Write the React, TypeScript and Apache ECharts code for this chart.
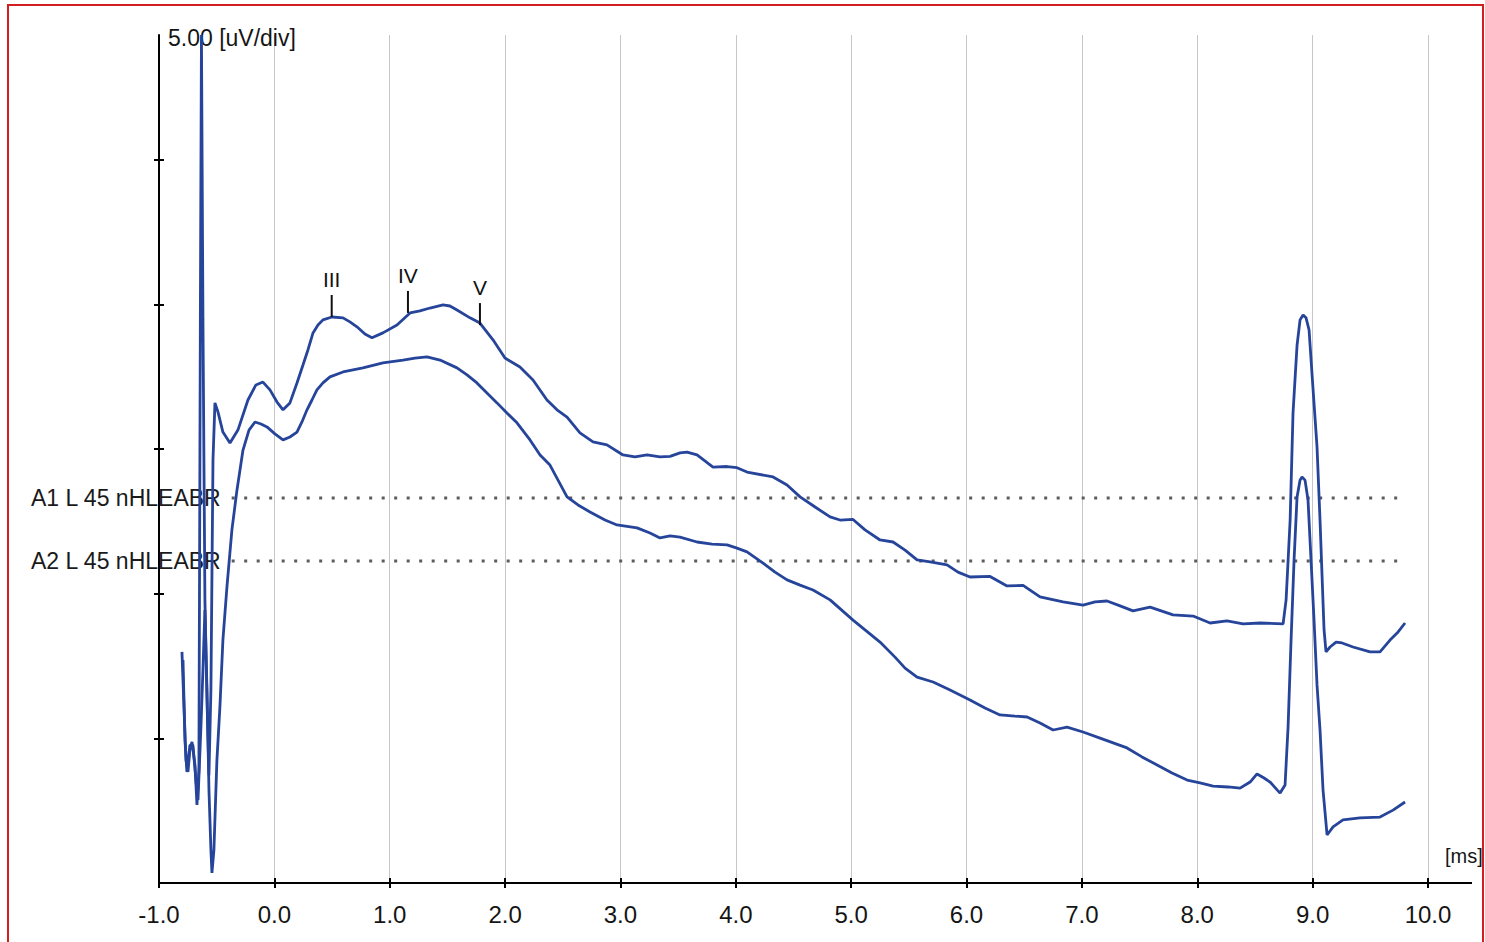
import React, { useEffect, useRef } from "react";
import * as echarts from "echarts";

const FONT = "'Liberation Sans', Arial, Helvetica, sans-serif";

// Axis ticks / labels
const xTickValues = [-1, 0, 1, 2, 3, 4, 5, 6, 7, 8, 9, 10];
const yTickValues = [5, 10, 15, 20, 25];
const xAxisUnit = "[ms]";
const yAxisTitle = "5.00 [uV/div]";

// Channel A1 (upper trace): latency [ms], amplitude [uV]
const a1Time = [
  -0.801, -0.784, -0.766, -0.749, -0.732, -0.714, -0.688, -0.671, -0.654, -0.641,
  -0.632, -0.619, -0.602, -0.584, -0.567, -0.55, -0.532, -0.515, -0.489, -0.446,
  -0.385, -0.316, -0.229, -0.16, -0.099, -0.038, 0.023, 0.075, 0.135, 0.196,
  0.248, 0.291, 0.335, 0.378, 0.421, 0.499, 0.595, 0.655, 0.716, 0.785,
  0.846, 0.941, 1.063, 1.176, 1.262, 1.349, 1.462, 1.522, 1.583, 1.696,
  1.782, 1.895, 1.999, 2.129, 2.242, 2.363, 2.45, 2.537, 2.649, 2.762,
  2.883, 3.022, 3.126, 3.23, 3.343, 3.43, 3.516, 3.577, 3.664, 3.802,
  3.924, 4.01, 4.097, 4.323, 4.444, 4.557, 4.687, 4.817, 4.903, 5.016,
  5.12, 5.25, 5.363, 5.467, 5.571, 5.684, 5.831, 5.926, 6.03, 6.204,
  6.351, 6.49, 6.637, 6.837, 7.01, 7.114, 7.218, 7.331, 7.443, 7.591,
  7.79, 7.964, 8.111, 8.258, 8.397, 8.545, 8.744, 8.77, 8.805, 8.83,
  8.865, 8.891, 8.917, 8.943, 8.969, 9.004, 9.038, 9.064, 9.082, 9.099,
  9.116, 9.151, 9.203, 9.255, 9.35, 9.498, 9.584, 9.671, 9.741, 9.801,
];
const a1Amp = [
  7.99, 6.15, 4.25, 3.84, 4.6, 4.88, 4.08, 2.7, 3.91, 20.16,
  29.32, 19.47, 9.79, 6.33, 3.73, 6.67, 14.63, 16.6, 16.29, 15.59,
  15.21, 15.66, 16.7, 17.22, 17.32, 17.05, 16.63, 16.36, 16.6, 17.29,
  17.91, 18.43, 19.02, 19.29, 19.47, 19.57, 19.54, 19.4, 19.23, 18.98,
  18.85, 19.02, 19.29, 19.71, 19.78, 19.88, 19.99, 19.95, 19.81, 19.54,
  19.36, 18.78, 18.15, 17.84, 17.39, 16.7, 16.36, 16.11, 15.56, 15.25,
  15.15, 14.8, 14.73, 14.8, 14.73, 14.75, 14.87, 14.9, 14.8, 14.38,
  14.4, 14.36, 14.21, 14.04, 13.76, 13.35, 13.0, 12.66, 12.55, 12.57,
  12.21, 11.86, 11.79, 11.51, 11.17, 11.1, 11.0, 10.75, 10.58, 10.6,
  10.27, 10.29, 9.89, 9.72, 9.61, 9.72, 9.75, 9.58, 9.41, 9.54,
  9.27, 9.23, 8.99, 9.06, 8.96, 8.99, 8.96, 9.79, 12.55, 16.25,
  18.6, 19.47, 19.64, 19.54, 19.12, 17.05, 15.08, 12.55, 10.58, 8.75,
  7.99, 8.16, 8.33, 8.3, 8.16, 7.99, 7.99, 8.4, 8.68, 8.99,
];

// Channel A2 (lower trace): latency [ms], amplitude [uV]
const a2Time = [
  -0.792, -0.775, -0.758, -0.732, -0.706, -0.68, -0.662, -0.636, -0.619, -0.602,
  -0.584, -0.567, -0.55, -0.541, -0.524, -0.498, -0.472, -0.446, -0.411, -0.368,
  -0.324, -0.272, -0.22, -0.168, -0.116, -0.064, 0.005, 0.075, 0.135, 0.196,
  0.239, 0.283, 0.326, 0.369, 0.421, 0.482, 0.595, 0.768, 0.941, 1.115,
  1.219, 1.323, 1.436, 1.583, 1.67, 1.756, 1.843, 1.93, 2.016, 2.103,
  2.216, 2.303, 2.389, 2.537, 2.632, 2.736, 2.866, 2.97, 3.144, 3.256,
  3.343, 3.43, 3.516, 3.664, 3.794, 3.924, 4.01, 4.097, 4.236, 4.34,
  4.444, 4.557, 4.669, 4.817, 5.016, 5.12, 5.25, 5.38, 5.467, 5.571,
  5.71, 5.857, 6.03, 6.16, 6.29, 6.42, 6.525, 6.637, 6.75, 6.871,
  7.01, 7.157, 7.391, 7.521, 7.652, 7.781, 7.912, 8.024, 8.137, 8.267,
  8.371, 8.458, 8.518, 8.579, 8.631, 8.692, 8.718, 8.761, 8.787, 8.813,
  8.839, 8.865, 8.891, 8.908, 8.934, 8.96, 8.986, 9.012, 9.038, 9.064,
  9.09, 9.125, 9.177, 9.263, 9.41, 9.584, 9.697, 9.801,
];
const a2Amp = [
  7.71, 4.94, 3.84, 4.77, 4.77, 3.56, 2.87, 5.46, 7.37, 9.44,
  6.67, 3.22, 1.14, 0.35, 1.14, 4.25, 6.09, 8.4, 10.24, 12.21,
  13.59, 14.97, 15.66, 15.94, 15.87, 15.77, 15.53, 15.32, 15.42, 15.59,
  15.94, 16.36, 16.7, 17.05, 17.29, 17.5, 17.67, 17.81, 17.98, 18.08,
  18.15, 18.19, 18.08, 17.81, 17.57, 17.29, 16.94, 16.6, 16.25, 15.91,
  15.32, 14.8, 14.45, 13.35, 13.07, 12.83, 12.55, 12.38, 12.28, 12.1,
  11.93, 12.0, 11.96, 11.79, 11.72, 11.69, 11.58, 11.45, 11.06, 10.75,
  10.48, 10.3, 10.13, 9.79, 9.09, 8.75, 8.33, 7.81, 7.43, 7.12,
  6.95, 6.67, 6.33, 6.05, 5.81, 5.77, 5.74, 5.53, 5.29, 5.39,
  5.22, 5.01, 4.67, 4.36, 4.08, 3.8, 3.56, 3.46, 3.35, 3.32,
  3.28, 3.49, 3.77, 3.63, 3.49, 3.22, 3.11, 3.39, 5.39, 8.4,
  11.17, 13.35, 13.93, 14.04, 13.93, 13.24, 11.17, 9.09, 6.85, 5.29,
  3.22, 1.66, 1.94, 2.18, 2.25, 2.28, 2.52, 2.8,
];

// Channel baselines (dotted) and names
const channelNames = ["A1 L 45 nHLEABR", "A2 L 45 nHLEABR"];
const channelBaseline = [13.31, 11.13];
const baselineSpan = [-0.37, 9.8];

// Wave markers on the A1 trace
const peakLabels = ["III", "IV", "V"];
const peakLatency = [0.497, 1.158, 1.782];
const peakAmplitude = [19.57, 19.71, 19.29];

const Y_MAX = 29.32;
const TRACE_COLOR = "#26459a";

export default function App() {
  const ref = useRef<HTMLDivElement | null>(null);

  useEffect(() => {
    if (!ref.current) return;
    const chart = echarts.init(ref.current, null, { renderer: "svg" });

    const tickStyle = { color: "#000", width: 2 };

    const option: any = {
      animation: false,
      backgroundColor: "#ffffff",
      grid: {
        left: 159,
        right: 57,
        top: 35,
        bottom: 59,
        containLabel: false,
        outerBoundsMode: "none",
      },
      xAxis: [
        {
          type: "value",
          min: -1,
          max: 10,
          interval: 1,
          position: "bottom",
          axisLine: { show: true, onZero: false, lineStyle: { color: "#000", width: 2 } },
          axisTick: { show: true, inside: false, length: 5, lineStyle: tickStyle },
          axisLabel: {
            show: true,
            margin: 19,
            fontSize: 24,
            color: "#151515",
            fontFamily: FONT,
            customValues: xTickValues,
            formatter: (v: number) => v.toFixed(1),
          },
          splitLine: { show: true, lineStyle: { color: "#c6c6c6", width: 1 } },
          name: xAxisUnit,
          nameLocation: "end",
          nameGap: 17,
          nameTextStyle: {
            fontSize: 20,
            color: "#151515",
            fontFamily: FONT,
            align: "left",
            verticalAlign: "bottom",
            padding: [0, 0, 17, 0],
          },
        },
        {
          type: "value",
          min: -1,
          max: 10,
          interval: 1,
          position: "bottom",
          axisLine: { show: false, onZero: false },
          axisTick: { show: true, inside: true, length: 5, lineStyle: tickStyle },
          axisLabel: { show: false },
          splitLine: { show: false },
        },
      ],
      yAxis: [
        {
          type: "value",
          min: 0,
          max: Y_MAX,
          interval: 5,
          position: "left",
          axisLine: { show: true, onZero: false, lineStyle: { color: "#000", width: 2 } },
          axisTick: { show: true, inside: false, length: 5, lineStyle: tickStyle, customValues: yTickValues },
          axisLabel: { show: false },
          splitLine: { show: false },
          name: yAxisTitle,
          nameLocation: "end",
          nameGap: -3,
          nameTextStyle: {
            fontSize: 23,
            color: "#151515",
            fontFamily: FONT,
            align: "left",
            verticalAlign: "middle",
            padding: [0, 0, 0, 9],
          },
        },
        {
          type: "value",
          min: 0,
          max: Y_MAX,
          interval: 5,
          position: "left",
          axisLine: { show: false, onZero: false },
          axisTick: { show: true, inside: true, length: 5, lineStyle: tickStyle, customValues: yTickValues },
          axisLabel: { show: false },
          splitLine: { show: false },
        },
      ],
      series: [
        ...channelNames.map((name, i) => ({
          type: "line",
          name: name + " baseline",
          silent: true,
          z: 2,
          symbol: "circle",
          symbolSize: 0,
          showSymbol: true,
          lineStyle: { type: [3, 9.5], width: 3, color: "#5c5c5c", cap: "butt" },
          data: [
            {
              value: [baselineSpan[0], channelBaseline[i]],
              label: {
                show: true,
                position: "left",
                distance: 11,
                formatter: name,
                fontSize: 23,
                color: "#1a1a1a",
                opacity: 1,
                fontFamily: FONT,
              },
            },
            { value: [baselineSpan[1], channelBaseline[i]] },
          ],
        })),
        {
          type: "line",
          name: channelNames[0],
          z: 3,
          showSymbol: false,
          symbol: "none",
          lineStyle: { color: TRACE_COLOR, width: 2.8 },
          data: a1Time.map((t, i) => [t, a1Amp[i]]),
        },
        {
          type: "line",
          name: channelNames[1],
          z: 3,
          showSymbol: false,
          symbol: "none",
          lineStyle: { color: TRACE_COLOR, width: 2.8 },
          data: a2Time.map((t, i) => [t, a2Amp[i]]),
        },
        {
          type: "custom",
          name: "waves",
          coordinateSystem: "cartesian2d",
          z: 5,
          silent: true,
          encode: { x: 0, y: 1 },
          data: peakLatency.map((t, i) => [t, peakAmplitude[i]]),
          renderItem: (params: any, api: any) => {
            const p = api.coord([api.value(0), api.value(1)]);
            return {
              type: "group",
              children: [
                {
                  type: "line",
                  shape: { x1: p[0], y1: p[1], x2: p[0], y2: p[1] - 22 },
                  style: { stroke: "#111", lineWidth: 2 },
                },
                {
                  type: "text",
                  x: p[0],
                  y: p[1] - 27,
                  style: {
                    text: peakLabels[params.dataIndex],
                    align: "center",
                    verticalAlign: "bottom",
                    fontSize: 21,
                    fontFamily: FONT,
                    fill: "#111",
                  },
                },
              ],
            };
          },
        },
      ],
      graphic: [
        {
          type: "line",
          silent: true,
          z: 10,
          shape: { x1: 1428, y1: 883, x2: 1472, y2: 883 },
          style: { stroke: "#000", lineWidth: 2 },
        },
        {
          type: "rect",
          silent: true,
          z: 100,
          shape: { x: 8, y: 5, width: 1475, height: 960 },
          style: { fill: "none", stroke: "#d11f1f", lineWidth: 2 },
        },
      ],
    };

    chart.setOption(option);
    return () => chart.dispose();
  }, []);

  return (
    <div
      ref={ref}
      style={{ position: "fixed", left: 0, top: 0, width: 1485, height: 942, background: "#fff" }}
    />
  );
}
